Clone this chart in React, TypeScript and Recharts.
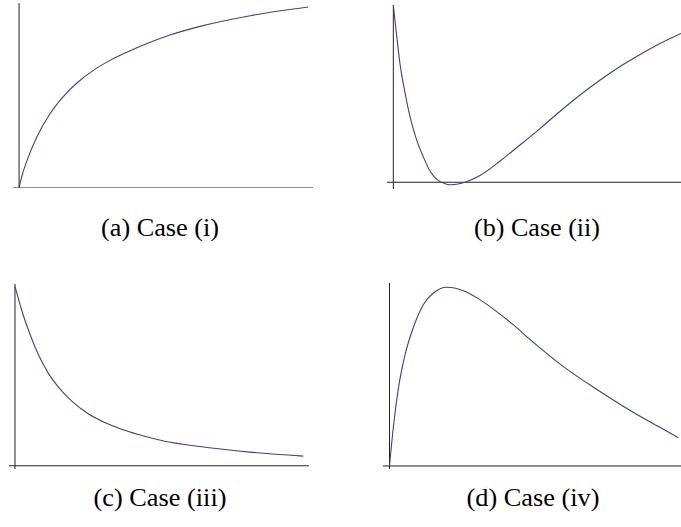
import React from 'react'
import { LineChart, Line, XAxis, YAxis, ReferenceLine } from 'recharts'

// Case (i): rising, saturating curve
const caseIx = [0, 0.09, 0.27, 0.61, 1.07, 1.53, 2.0, 2.57, 3.15, 3.73, 4.3, 5.22, 6.26, 8.0, 10]
const caseIy = [0, 0.062, 0.15, 0.28, 0.41, 0.505, 0.58, 0.65, 0.705, 0.75, 0.79, 0.845, 0.893, 0.952, 1.0]

// Case (ii): falls below zero, then rises again
const caseIIx = [0, 0.12, 0.23, 0.41, 0.58, 0.81, 1.04, 1.28, 1.5, 1.75, 2.0, 2.25, 2.49, 3.01, 3.71, 4.4, 5.1, 5.79, 6.49, 7.19, 7.88, 8.58, 9.27, 10]
const caseIIy = [1.0, 0.821, 0.671, 0.502, 0.37, 0.239, 0.144, 0.062, 0.018, -0.005, -0.014, -0.01, 0, 0.038, 0.12, 0.21, 0.303, 0.399, 0.492, 0.577, 0.653, 0.721, 0.783, 0.84]

// Case (iii): decaying curve
const caseIIIx = [0, 0.23, 0.52, 0.81, 1.16, 1.5, 1.97, 2.54, 3.12, 3.7, 4.28, 5.2, 6.42, 8.15, 10]
const caseIIIy = [1.0, 0.868, 0.733, 0.62, 0.515, 0.44, 0.36, 0.29, 0.241, 0.203, 0.174, 0.137, 0.107, 0.076, 0.054]

// Case (iv): rise to a peak, then decay
const caseIVx = [0, 0.13, 0.31, 0.54, 0.82, 1.17, 1.52, 1.98, 2.56, 3.13, 3.71, 4.29, 4.87, 6.02, 7.18, 8.33, 9.48, 10]
const caseIVy = [0, 0.212, 0.436, 0.622, 0.771, 0.901, 0.966, 0.998, 0.979, 0.929, 0.862, 0.788, 0.706, 0.555, 0.427, 0.31, 0.205, 0.158]

const captions = ['(a) Case (i)', '(b) Case (ii)', '(c) Case (iii)', '(d) Case (iv)']

const toRows = (xs: number[], ys: number[]) => xs.map((x, i) => ({ x, y: ys[i] }))

const LINE_COLOR = '#3d3d99'
const AXIS_COLOR = '#222'

interface PanelProps {
  xs: number[]
  ys: number[]
  left: number
  top: number
  width: number
  height: number
  xDomain: [number, number]
  yDomain: [number, number]
}

function Panel({ xs, ys, left, top, width, height, xDomain, yDomain }: PanelProps) {
  return (
    <div style={{ position: 'absolute', left, top }}>
      <LineChart width={width} height={height} data={toRows(xs, ys)} margin={{ top: 0, right: 0, bottom: 0, left: 0 }}>
        <XAxis dataKey="x" type="number" domain={xDomain} hide allowDataOverflow />
        <YAxis type="number" domain={yDomain} hide allowDataOverflow />
        <ReferenceLine x={0} stroke={AXIS_COLOR} strokeWidth={1} />
        <ReferenceLine y={0} stroke={AXIS_COLOR} strokeWidth={1} />
        <Line
          type="monotone"
          dataKey="y"
          stroke={LINE_COLOR}
          strokeWidth={1.1}
          dot={false}
          isAnimationActive={false}
        />
      </LineChart>
    </div>
  )
}

export default function App() {
  return (
    <div style={{ position: 'absolute', left: 0, top: 0, width: 681, height: 527, background: '#fff' }}>
      <Panel xs={caseIx} ys={caseIy} left={13} top={3} width={300} height={185} xDomain={[-0.21, 10.17]} yDomain={[0, 1.022]} />
      <Panel xs={caseIIx} ys={caseIIy} left={387} top={5} width={294} height={184} xDomain={[-0.22, 10]} yDomain={[-0.038, 1]} />
      <Panel xs={caseIIIx} ys={caseIIIy} left={9} top={284} width={300} height={185} xDomain={[-0.208, 10.2]} yDomain={[-0.018, 1.013]} />
      <Panel xs={caseIVx} ys={caseIVy} left={383} top={283} width={298} height={186} xDomain={[-0.225, 10.09]} yDomain={[-0.017, 1.022]} />
      <svg width={681} height={527} style={{ position: 'absolute', left: 0, top: 0, pointerEvents: 'none' }}>
        <g fontFamily="Liberation Serif" fontSize={25} fill="#000" textAnchor="middle">
          <text x={160} y={236} textLength={118} lengthAdjust="spacingAndGlyphs">{captions[0]}</text>
          <text x={537} y={236} textLength={126} lengthAdjust="spacingAndGlyphs">{captions[1]}</text>
          <text x={160} y={506} textLength={133} lengthAdjust="spacingAndGlyphs">{captions[2]}</text>
          <text x={533} y={506} textLength={133} lengthAdjust="spacingAndGlyphs">{captions[3]}</text>
        </g>
      </svg>
    </div>
  )
}
